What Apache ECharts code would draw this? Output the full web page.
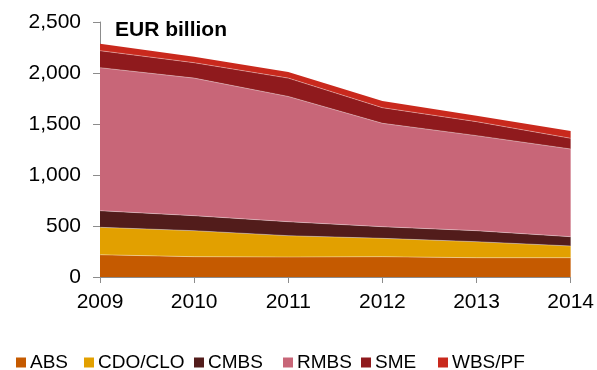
<!DOCTYPE html>
<html>
<head>
<meta charset="utf-8">
<script src="https://cdn.jsdelivr.net/npm/echarts@6/dist/echarts.min.js"></script>
<style>html,body{margin:0;padding:0;background:#fff;}#c{width:597px;height:370px;}</style>
</head>
<body>
<div id="c"></div>
<script>
const years = ['2009', '2010', '2011', '2012', '2013', '2014'];
const seriesNames = ['ABS', 'CDO/CLO', 'CMBS', 'RMBS', 'SME', 'WBS/PF'];
const abs = [218, 199, 196, 199, 189, 189];
const cdo = [269, 255, 209, 180, 157, 115];
const cmbs = [163, 147, 137, 114, 108, 91];
const rmbs = [1402, 1349, 1228, 1014, 932, 860];
const sme = [167, 151, 180, 153, 137, 105];
const wbs = [68, 59, 60, 65, 59, 71];
const yTicks = [0, 500, 1000, 1500, 2000, 2500];

const values = [abs, cdo, cmbs, rmbs, sme, wbs];
const colors = ['#C55A00', '#E2A000', '#521C1B', '#C86678', '#8F1A1D', '#C9291D'];
const legendLeft = [16, 84, 194, 283, 361, 438];
const font = '"Liberation Sans", Arial, sans-serif';

const chart = echarts.init(document.getElementById('c'), null, {renderer: 'canvas'});
chart.setOption({
  animation: false,
  backgroundColor: '#fff',
  title: {
    text: 'EUR billion', left: 110, top: 15,
    textStyle: {fontFamily: font, fontWeight: 'bold', fontSize: 21, color: '#000'}
  },
  legend: seriesNames.map((n, i) => ({
    data: [n], left: legendLeft[i], top: 353, itemWidth: 10, itemHeight: 10, itemGap: 0,
    icon: 'rect', padding: 0,
    textStyle: {fontFamily: font, fontSize: 19, color: '#000', padding: [0, 0, 0, -1]}
  })),
  grid: {left: 100, right: 22.5, top: 22, bottom: 93, containLabel: false},
  xAxis: {
    type: 'category', data: years, boundaryGap: false,
    axisLine: {lineStyle: {color: '#8c8c8c', width: 1}},
    axisTick: {show: true, length: 6, inside: false, lineStyle: {color: '#8c8c8c'}},
    axisLabel: {fontFamily: font, fontSize: 21, color: '#000', margin: 15}
  },
  yAxis: {
    type: 'value', min: 0, max: 2500, interval: 500,
    splitLine: {show: false},
    axisLine: {show: true, lineStyle: {color: '#8c8c8c', width: 1}},
    axisTick: {show: true, length: 7, lineStyle: {color: '#8c8c8c'}},
    axisLabel: {fontFamily: font, fontSize: 21, color: '#000', margin: 19,
      formatter: v => yTicks.includes(v) ? v.toLocaleString('en-US') : ''}
  },
  series: seriesNames.map((n, i) => ({
    name: n, type: 'line', stack: 'total', data: values[i],
    symbol: 'none', smooth: false,
    lineStyle: {width: i === 5 ? 0 : 1, color: 'rgba(255,255,255,0.35)'},
    itemStyle: {color: colors[i]},
    areaStyle: {color: colors[i], opacity: 1}
  }))
});
</script>
</body>
</html>
